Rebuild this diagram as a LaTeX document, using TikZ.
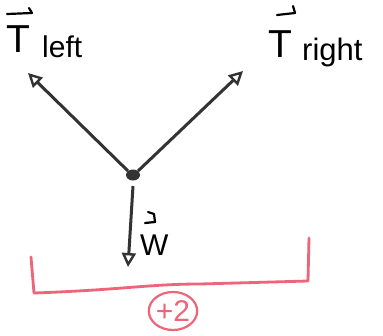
\documentclass[tikz,border=0pt]{standalone}
\usepackage{fontspec}
\setmainfont{Liberation Sans}
\usetikzlibrary{arrows.meta,shapes.geometric}
\definecolor{ink}{HTML}{333333}
\definecolor{pinkred}{HTML}{EE6478}
\tikzset{
  force/.style={draw=ink, line width=3pt, -{Triangle[open,length=14pt,width=14pt,line width=2.4pt]}},
  lbl/.style={text=black, inner sep=0pt},
  vecbar/.style={draw=black, line width=2.2pt, line cap=round, line join=round},
  bracket/.style={draw=pinkred, line width=2.8pt, line join=round, line cap=round},
}
\begin{document}
\begin{tikzpicture}[x=1pt,y=-1pt]
\useasboundingbox[fill=white] (0,0) rectangle (383,335);
\fill[ink] (133,175) ellipse (7 and 5.5);
\coordinate (cl) at (128,171);
\coordinate (cr) at (138,171);
\coordinate (cd) at (133,186);
\coordinate (tl) at (28,73);
\coordinate (tr) at (243,71);
\coordinate (tw) at (128,267);
\draw[force] (cl) -- (tl);
\draw[force] (cr) -- (tr);
\draw[force] (cd) -- (tw);
% T left
\node[lbl, anchor=base west] (TL) at (6,52) {\fontsize{39}{40}\selectfont T};
\node[lbl, anchor=base west] (TLs) at (42,57) {\fontsize{30}{32}\selectfont left};
\draw[vecbar] ([shift={(1,-38)}]TL.base west) -- ([shift={(26,-39)}]TL.base west) -- ++(-3,-5);
% T right
\node[lbl, anchor=base west] (TR) at (268,57) {\fontsize{39}{40}\selectfont T};
\node[lbl, anchor=base west] (TRs) at (302,60) {\fontsize{31}{33}\selectfont right};
\draw[vecbar] ([shift={(9,-42)}]TR.base west) -- ([shift={(27,-44)}]TR.base west) -- ++(-2,-7);
% W
\node[lbl, anchor=base west] (W) at (140,255) {\fontsize{30}{32}\selectfont W};
\draw[vecbar] ([shift={(5,-32)}]W.base west) -- ([shift={(15,-33)}]W.base west) -- ++(-1,-8) -- ++(-6,-2);
% bracket
\coordinate (b1) at (31,257);
\coordinate (b2) at (34,293);
\coordinate (b3) at (308,281);
\coordinate (b4) at (309,238);
\draw[bracket] (b1) -- (b2) .. controls (120,290) and (150,284) .. (200,284) -- (b3) -- (b4);
\node[draw=pinkred, line width=2.2pt, ellipse, text=pinkred, inner sep=0pt, minimum width=48pt, minimum height=38pt] (pts) at (173,311) {\fontsize{30}{32}\selectfont +2};
\end{tikzpicture}
\end{document}
